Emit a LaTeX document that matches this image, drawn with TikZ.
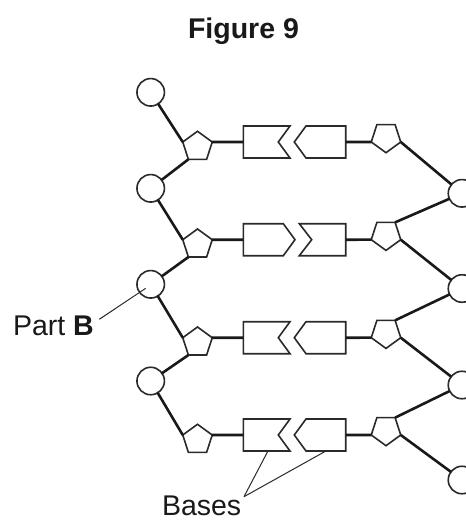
\documentclass[tikz,border=0pt]{standalone}
\usepackage{fontspec}
\setmainfont{Liberation Sans}
\usetikzlibrary{shapes.geometric}
\definecolor{ink}{HTML}{2A2A2A}
\tikzset{
  phos/.style={circle,draw=ink,fill=white,line width=1.6pt,minimum size=27.5pt,inner sep=0pt,outer sep=0pt},
  sugarup/.style={regular polygon,regular polygon sides=5,draw=ink,fill=white,line width=1.6pt,minimum size=31pt,inner sep=0pt,outer sep=0pt},
  sugardown/.style={sugarup,shape border rotate=180},
  backbone/.style={line width=2.6pt,draw=black!90},
  basebox/.style={draw=ink,fill=white,line width=1.6pt,line join=miter},
  leader/.style={line width=1pt,draw=ink},
  label/.style={inner sep=0pt,outer sep=0pt,text=black!90,font=\fontsize{28.5}{30}\selectfont}
}
\newcommand{\notchL}[2]{% left base with a notch, rung #1
  \draw[basebox] (243.3,#2-16) -- (290,#2-16) -- (278.3,#2) -- (290,#2+16) -- (243.3,#2+16) -- cycle;
  \coordinate (bl#1) at (243.3,#2);}
\newcommand{\pointR}[2]{% right base with a left-pointing tip
  \draw[basebox] (345.7,#2-16) -- (306,#2-16) -- (294.3,#2) -- (306,#2+16) -- (345.7,#2+16) -- cycle;
  \coordinate (br#1) at (345.7,#2);}
\begin{document}
\begin{tikzpicture}[x=1pt,y=-1pt]
\useasboundingbox (0,0) rectangle (466,520);
\fill[white] (0,0) rectangle (466,520);

% phosphates
\node[phos] (a1) at (150.7,92.3) {};
\node[phos] (a2) at (150.7,188.3) {};
\node[phos] (a3) at (150.7,284.3) {};
\node[phos] (a4) at (150.7,381) {};
\node[phos] (c1) at (462,193.3) {};
\node[phos] (c2) at (462,288.5) {};
\node[phos] (c3) at (462,385) {};
\node[phos] (c4) at (462,480) {};

% sugars
\node[sugarup] (s1) at (197.5,146.8) {};
\node[sugarup] (s2) at (197.5,244.5) {};
\node[sugarup] (s3) at (197.5,342.5) {};
\node[sugarup] (s4) at (197.5,439.8) {};
\node[sugardown] (t1) at (386,137.2) {};
\node[sugardown] (t2) at (386,234.9) {};
\node[sugardown] (t3) at (386,332.9) {};
\node[sugardown] (t4) at (386,430.2) {};

% bases
\notchL{1}{142}
\pointR{1}{142}
\draw[basebox] (243.3,223.7) -- (283.3,223.7) -- (295,239.7) -- (283.3,255.7) -- (243.3,255.7) -- cycle;
\coordinate (bl2) at (243.3,239.7);
\draw[basebox] (345.7,223.7) -- (299.3,223.7) -- (311.7,239.7) -- (299.3,255.7) -- (345.7,255.7) -- cycle;
\coordinate (br2) at (345.7,239.7);
\notchL{3}{337.7}
\pointR{3}{337.7}
\notchL{4}{435}
\pointR{4}{435}
\coordinate (tipL) at (267.7,451.5);
\coordinate (tipR) at (325,451.5);

% rungs
\foreach \i in {1,2,3,4}{
  \draw[backbone] (s\i.corner 5) -- (bl\i);
  \draw[backbone] (br\i) -- (t\i.corner 5);
}

% left strand
\draw[backbone] (a1) -- (s1.corner 2);
\draw[backbone] (s1.corner 3) -- (a2);
\draw[backbone] (a2) -- (s2.corner 2);
\draw[backbone] (s2.corner 3) -- (a3);
\draw[backbone] (a3) -- (s3.corner 2);
\draw[backbone] (s3.corner 3) -- (a4);
\draw[backbone] (a4) -- (s4.corner 2);

% right strand
\draw[backbone] (t1.corner 2) -- (c1);
\draw[backbone] (t2.corner 3) -- (c1);
\draw[backbone] (t2.corner 2) -- (c2);
\draw[backbone] (t3.corner 3) -- (c2);
\draw[backbone] (t3.corner 2) -- (c3);
\draw[backbone] (t4.corner 3) -- (c3);
\draw[backbone] (t4.corner 2) -- (c4);

% labels
\node[label,font=\fontsize{28.5}{30}\selectfont\bfseries,anchor=base] (title) at (243.5,38) {Figure 9};
\node[label,anchor=base west] (partb) at (13,335) {Part \textbf{B}};
\node[label,anchor=base west] (bases) at (162,515) {Bases};

% leaders
\coordinate (pbstart) at (99.3,319.3);
\coordinate (pbend) at (145.7,288.3);
\coordinate (apex) at (244,496.7);
\draw[leader] (pbstart) -- (pbend);
\draw[leader] (apex) -- (tipL);
\draw[leader] (apex) -- (tipR);
\end{tikzpicture}
\end{document}
